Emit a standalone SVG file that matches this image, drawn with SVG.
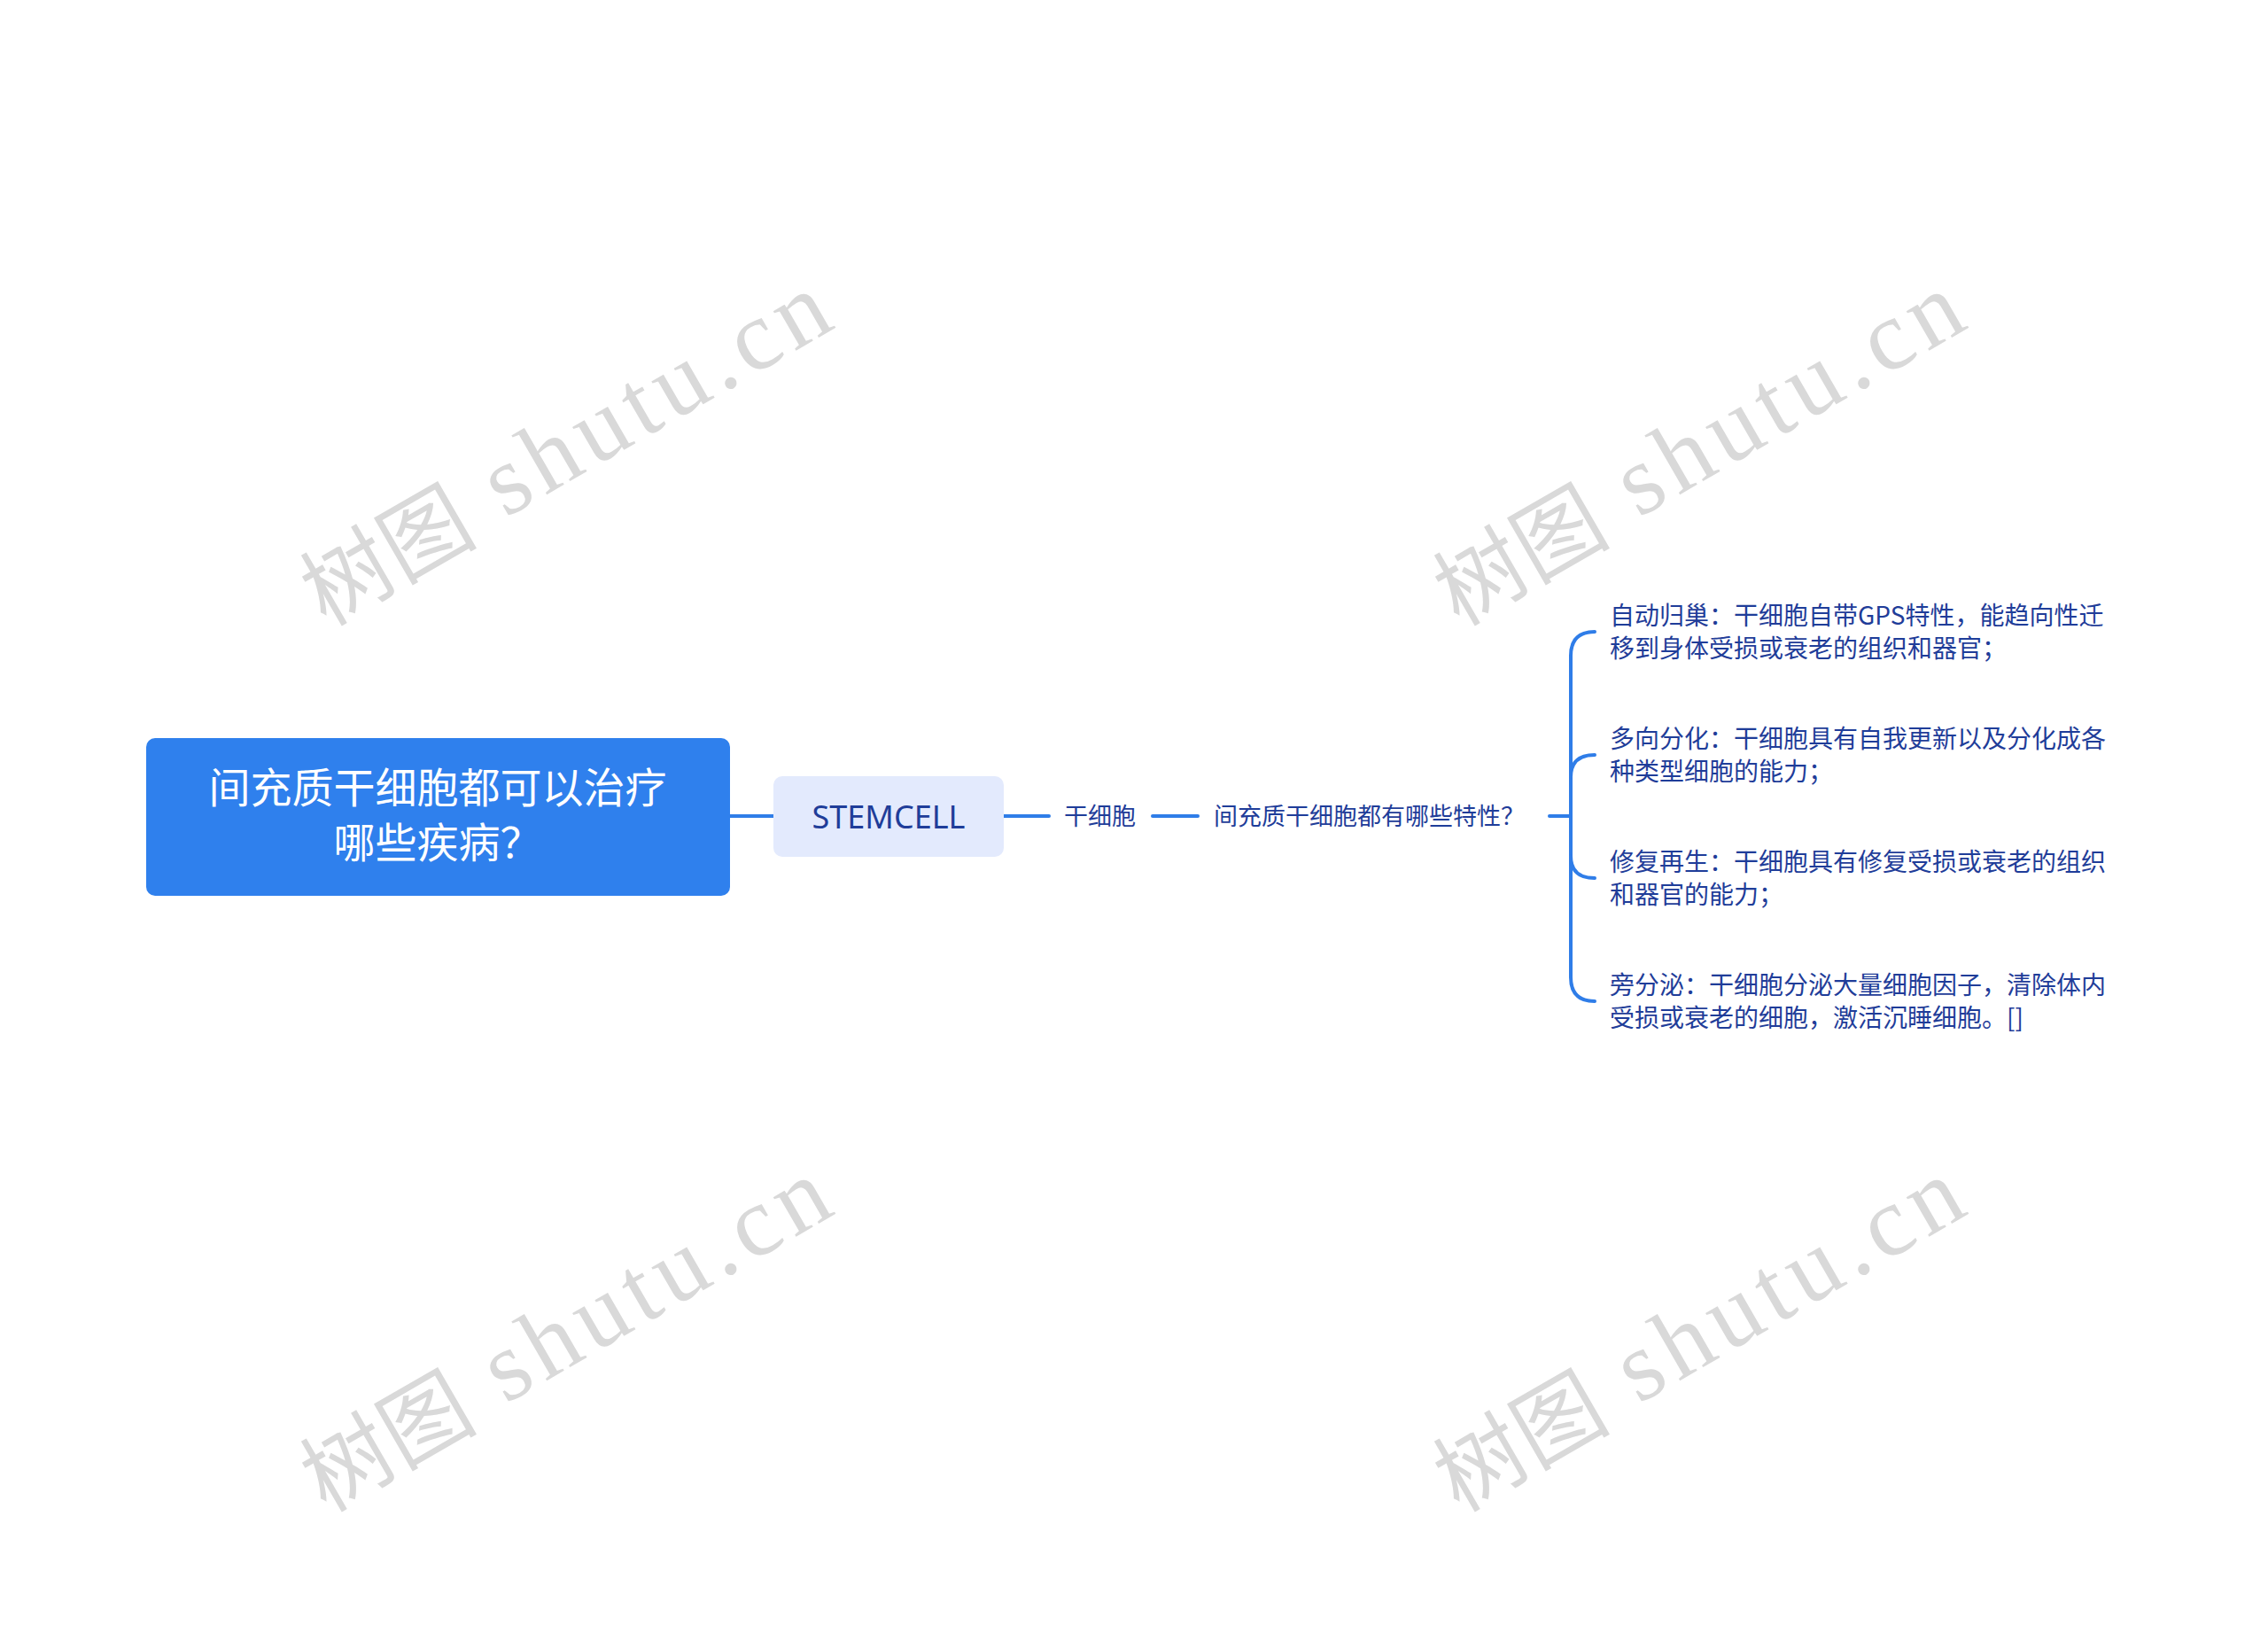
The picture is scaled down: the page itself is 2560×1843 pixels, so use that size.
<svg xmlns="http://www.w3.org/2000/svg" width="2560" height="1843" viewBox="0 0 2560 1843">
<style>
.wm{fill:#d9d9d9;font-family:"Liberation Serif","Noto Sans CJK SC",serif}
.wmc{fill:#d9d9d9;font-family:"Noto Sans CJK SC",sans-serif;font-size:100px}
.ln{fill:none;stroke:#2f7de8;stroke-width:4;stroke-linecap:round}
.t{font-family:"Noto Sans CJK SC","Noto Sans",sans-serif;fill:#1f3d99}
.root{font-family:"Noto Sans CJK SC",sans-serif;fill:#ffffff;font-size:47px}
</style>
<rect width="2560" height="1843" fill="#ffffff"/>
<g id="watermarks">
<g transform="translate(387,691) rotate(-30)"><text class="wmc" x="-25" y="5">树图</text><text class="wm" x="212" y="0" font-size="112" textLength="432" lengthAdjust="spacing">shutu.cn</text></g>
<g transform="translate(1666,691) rotate(-30)"><text class="wmc" x="-25" y="5">树图</text><text class="wm" x="212" y="0" font-size="112" textLength="432" lengthAdjust="spacing">shutu.cn</text></g>
<g transform="translate(387,1691) rotate(-30)"><text class="wmc" x="-25" y="5">树图</text><text class="wm" x="212" y="0" font-size="112" textLength="432" lengthAdjust="spacing">shutu.cn</text></g>
<g transform="translate(1666,1691) rotate(-30)"><text class="wmc" x="-25" y="5">树图</text><text class="wm" x="212" y="0" font-size="112" textLength="432" lengthAdjust="spacing">shutu.cn</text></g>
</g>
<g id="connectors">
<path class="ln" d="M824,921 H873"/>
<path class="ln" d="M1133,921 H1184"/>
<path class="ln" d="M1301,921 H1352"/>
<path class="ln" d="M1749,921 H1773"/>
<path class="ln" d="M1800,713 Q1773,713 1773,740 V1103 Q1773,1130 1800,1130"/>
<path class="ln" d="M1773,877 Q1773,852 1800,852"/>
<path class="ln" d="M1773,966 Q1773,991 1800,991"/>
</g>
<g id="root">
<rect x="165" y="833" width="659" height="178" rx="10" fill="#2f80ed"/>
<text class="root" x="494" y="906" text-anchor="middle">间充质干细胞都可以治疗</text>
<text class="root" x="494" y="968" text-anchor="middle">哪些疾病？</text>
</g>
<g id="stemcell">
<rect x="873" y="876" width="260" height="91" rx="10" fill="#e3eafd"/>
<text x="1003" y="935" text-anchor="middle" font-family="Noto Sans, sans-serif" font-size="36" fill="#1f3d99">STEMCELL</text>
</g>
<g id="ganxibao">
<text class="t" x="1201" y="931" font-size="27">干细胞</text>
</g>
<g id="question">
<text class="t" x="1370" y="931" font-size="27">间充质干细胞都有哪些特性？</text>
</g>
<g id="item1">
<text class="t" x="1817" y="705" font-size="28">自动归巢：干细胞自带GPS特性，能趋向性迁</text>
<text class="t" x="1817" y="742" font-size="28">移到身体受损或衰老的组织和器官；</text>
</g>
<g id="item2">
<text class="t" x="1817" y="844" font-size="28">多向分化：干细胞具有自我更新以及分化成各</text>
<text class="t" x="1817" y="881" font-size="28">种类型细胞的能力；</text>
</g>
<g id="item3">
<text class="t" x="1817" y="983" font-size="28">修复再生：干细胞具有修复受损或衰老的组织</text>
<text class="t" x="1817" y="1020" font-size="28">和器官的能力；</text>
</g>
<g id="item4">
<text class="t" x="1817" y="1122" font-size="28">旁分泌：干细胞分泌大量细胞因子，清除体内</text>
<text class="t" x="1817" y="1159" font-size="28">受损或衰老的细胞，激活沉睡细胞。[]</text>
</g>
</svg>
